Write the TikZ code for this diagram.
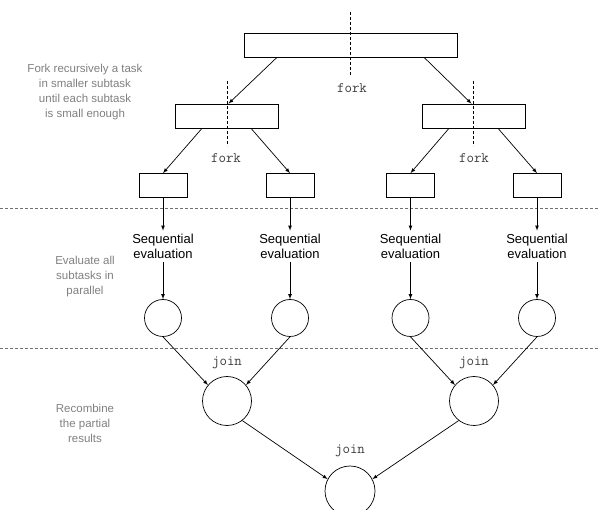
\documentclass[tikz,border=0pt]{standalone}
\usepackage{fontspec}
\setmainfont{Liberation Sans}
\usepackage{xcolor}
\usepackage{tikz}

\definecolor{notegray}{HTML}{808080}
\definecolor{codegray}{HTML}{3C3C3C}
\definecolor{rulegray}{HTML}{707070}

\tikzset{
  task/.style={draw, fill=white, inner sep=0pt, minimum height=24pt},
  res/.style={draw, circle, inner sep=0pt},
  note/.style={text=notegray, align=center, font=\fontsize{11.5}{15}\selectfont},
  code/.style={text=codegray, font=\ttfamily\fontsize{14.5}{15}\selectfont},
  seq/.style={align=center, inner sep=3pt, font=\fontsize{13}{15.5}\selectfont},
  cut/.style={line width=0.6pt, dash pattern=on 3pt off 2pt},
}

\begin{document}
\begin{tikzpicture}[x=1pt, y=-1pt, line width=0.7pt]
  \useasboundingbox (0,0) rectangle (600,510);

  % split phase
  \node[task, minimum width=213pt] (t0) at (350.5,45) {};
  \node[task, minimum width=103pt] (ta) at (226.5,116) {};
  \node[task, minimum width=103pt] (tb) at (473.5,116) {};
  \node[task, minimum width=48pt] (t1) at (163,185.5) {};
  \node[task, minimum width=48pt] (t2) at (290,185.5) {};
  \node[task, minimum width=48pt] (t3) at (410.5,185.5) {};
  \node[task, minimum width=48pt] (t4) at (537,185.5) {};

  \draw[cut] (350.5,12) -- (350.5,76);
  \draw[cut] (227,81) -- (227,146);
  \draw[cut] (473.5,81) -- (473.5,146);
  \node[code] (f0) at (352,88) {fork};
  \node[code] (fa) at (226,158) {fork};
  \node[code] (fb) at (474,158) {fork};

  \draw[-latex] ([xshift=-73.5pt]t0.south) -- ([xshift=2pt]ta.north);
  \draw[-latex] ([xshift=73.5pt]t0.south) -- ([xshift=-2pt]tb.north);
  \draw[-latex] ([xshift=-24.5pt]ta.south) -- (t1.north);
  \draw[-latex] ([xshift=24.5pt]ta.south) -- (t2.north);
  \draw[-latex] ([xshift=-24.5pt]tb.south) -- (t3.north);
  \draw[-latex] ([xshift=24.5pt]tb.south) -- (t4.north);

  \draw[cut, rulegray] (0,208) -- (600,208);
  \draw[cut, rulegray] (0,348) -- (600,348);

  % sequential phase
  \node[seq] (s1) at (163,246.5) {Sequential\\evaluation};
  \node[seq] (s2) at (290,246.5) {Sequential\\evaluation};
  \node[seq] (s3) at (410.5,246.5) {Sequential\\evaluation};
  \node[seq] (s4) at (537,246.5) {Sequential\\evaluation};

  \node[res, minimum size=37pt] (c1) at (163,318) {};
  \node[res, minimum size=37pt] (c2) at (290,318) {};
  \node[res, minimum size=37pt] (c3) at (410.5,318) {};
  \node[res, minimum size=37pt] (c4) at (537,318) {};

  \draw[-latex] (t1.south) -- (s1.north);
  \draw[-latex] (t2.south) -- (s2.north);
  \draw[-latex] (t3.south) -- (s3.north);
  \draw[-latex] (t4.south) -- (s4.north);
  \draw[-latex] (s1.south) -- (c1.north);
  \draw[-latex] (s2.south) -- (c2.north);
  \draw[-latex] (s3.south) -- (c3.north);
  \draw[-latex] (s4.south) -- (c4.north);

  % join phase
  \node[res, minimum size=49pt] (ja) at (227,401) {};
  \node[res, minimum size=49pt] (jb) at (474,401) {};
  \node[res, minimum size=50pt] (j0) at (350,491) {};
  \node[code] (la) at (227,363) {join};
  \node[code] (lb) at (474,363) {join};
  \node[code] (l0) at (350,451) {join};

  \draw[-latex] (c1.south) -- (ja.140);
  \draw[-latex] (c2.south) -- (ja.40);
  \draw[-latex] (c3.south) -- (jb.140);
  \draw[-latex] (c4.south) -- (jb.40);
  \draw[-latex] (ja.-52) -- (j0.152);
  \draw[-latex] (jb.232) -- (j0.28);

  % side notes
  \node[note] (n1) at (85,92.5) {Fork recursively a task\\in smaller subtask\\until each subtask\\is small enough};
  \node[note] (n2) at (85,277) {Evaluate all\\subtasks in\\parallel};
  \node[note] (n3) at (85,423) {Recombine\\the partial\\results};
\end{tikzpicture}
\end{document}
